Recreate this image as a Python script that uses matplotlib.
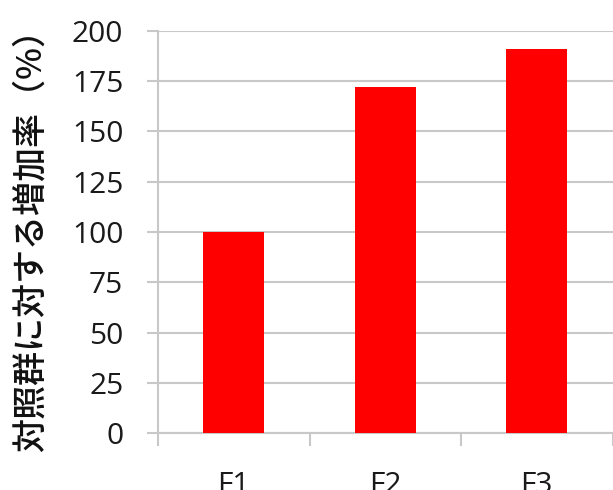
import matplotlib
matplotlib.use("Agg")
import matplotlib.pyplot as plt

categories = ["F1", "F2", "F3"]
values = [100, 172, 191]
yticks = [0, 25, 50, 75, 100, 125, 150, 175, 200]
ylabel = "対照群に対する増加率（%）"

fig = plt.figure(figsize=(6.13, 4.90), dpi=100)
ax_w = 612.5 - 158
ax = fig.add_axes([158/613, 1-433/490, ax_w/613, (433-31)/490])

x = list(range(len(categories)))
ax.bar(x, values, width=0.4, color="#ff0000", zorder=3)
ax.set_xlim(-0.5, len(categories)-0.5)
ax.set_ylim(0, 200)
ax.set_yticks(yticks)
ax.set_yticklabels([str(v) for v in yticks], fontsize=21.5, family=["Open Sans", "DejaVu Sans"], color="#1a1a1a")
ax.yaxis.grid(True, color="#c8c8c8", linewidth=1.5, zorder=0)
ax.set_axisbelow(True)

ax.set_xticks(x)
ax.set_xticklabels(categories, fontsize=21.5, family=["Open Sans", "DejaVu Sans"], color="#1a1a1a")
ax.tick_params(axis="x", which="major", length=0, pad=27)
ax.set_xticks([i - 0.5 for i in range(len(categories)+1)], minor=True)
ax.tick_params(axis="x", which="minor", length=9, width=1.5, color="#c8c8c8")
ax.tick_params(axis="y", length=8, width=1.5, color="#c8c8c8", pad=17)

for s in ["top", "right"]:
    ax.spines[s].set_visible(False)
for s in ["left", "bottom"]:
    ax.spines[s].set_color("#c8c8c8")
    ax.spines[s].set_linewidth(1.5)

ax.set_ylabel(ylabel, fontsize=24.5, fontweight="medium", color="#111111",
              family=["Noto Sans CJK JP", "DejaVu Sans"])
ax.yaxis.set_label_coords((48-158)/ax_w, 0.5)

fig.savefig("out.png", dpi=100)
